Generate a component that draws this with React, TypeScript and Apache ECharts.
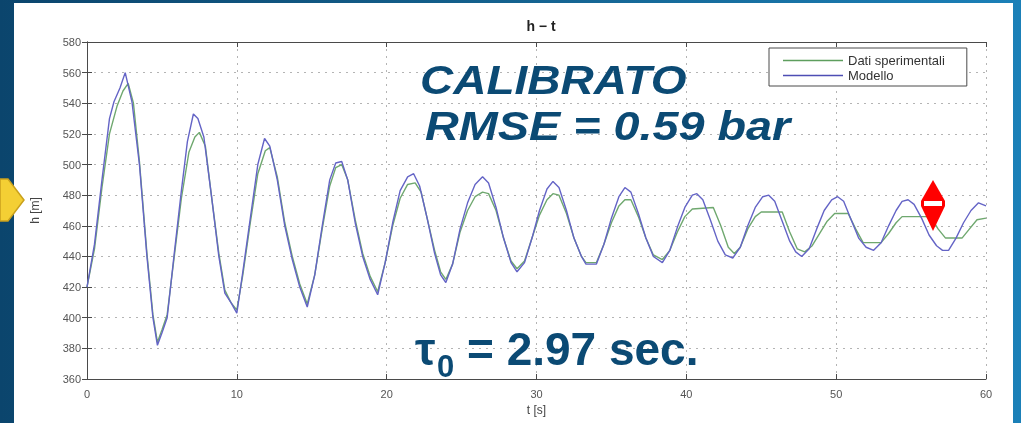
import React, { useEffect, useRef } from "react";
import * as echarts from "echarts";

// Labels
const TITLE = "h \u2212 t";
const X_NAME = "t [s]";
const Y_NAME = "h [m]";
const SERIES_NAMES = ["Dati sperimentali", "Modello"];

// Axis ranges: [min, max, interval]
const X_RANGE = [0, 60, 10];
const Y_RANGE = [360, 580, 20];

// Measured head h [m] against time t [s]
const datiSperimentali: [number, number][] = [
  [0, 420], [0.5, 445], [1.0, 485], [1.5, 520], [2.0, 538], [2.4, 548], [2.75, 553],
  [3.1, 540], [3.5, 502], [4.0, 442], [4.4, 402], [4.7, 384], [5.0, 392], [5.35, 402],
  [5.8, 438], [6.3, 478], [6.8, 508], [7.2, 518], [7.5, 521], [7.9, 512], [8.3, 480],
  [8.8, 442], [9.2, 418], [9.6, 410], [10.0, 405], [10.4, 428], [10.9, 462], [11.4, 494],
  [11.9, 509], [12.2, 511], [12.7, 492], [13.2, 462], [13.7, 440], [14.2, 422], [14.7, 409],
  [15.2, 428], [15.7, 458], [16.2, 486], [16.6, 498], [17.0, 500], [17.4, 490], [17.9, 464],
  [18.4, 442], [18.9, 427], [19.4, 417], [19.9, 436], [20.4, 460], [20.9, 478], [21.4, 487],
  [21.9, 488], [22.3, 482], [22.7, 465], [23.2, 444], [23.6, 430], [23.95, 425], [24.4, 435],
  [24.9, 456], [25.4, 470], [25.9, 479], [26.4, 482], [26.8, 481], [27.3, 470], [27.8, 452],
  [28.3, 437], [28.7, 432], [29.2, 437], [29.7, 452], [30.2, 467], [30.7, 477], [31.1, 481],
  [31.5, 480], [32.0, 468], [32.5, 452], [33.0, 440], [33.3, 436], [34.0, 436], [34.5, 448],
  [35.0, 462], [35.5, 473], [35.9, 477], [36.3, 477], [36.8, 466], [37.3, 452], [37.8, 441],
  [38.4, 438], [38.9, 444], [39.4, 456], [39.9, 466], [40.4, 471], [41.8, 472], [42.3, 460],
  [42.8, 446], [43.2, 442], [43.6, 446], [44.1, 458], [44.6, 466], [45.0, 469], [46.4, 469],
  [46.9, 456], [47.4, 445], [47.9, 443], [48.4, 447], [48.9, 455], [49.4, 463], [49.9, 468],
  [50.8, 468], [51.3, 458], [51.8, 449], [53.0, 449], [53.5, 455], [54.0, 462], [54.4, 466],
  [56.3, 466], [56.8, 458], [57.3, 452], [58.4, 452], [58.9, 458], [59.4, 464], [60.0, 465],
];

// Simulated head h [m] against time t [s]
const modello: [number, number][] = [
  [0, 420], [0.5, 448], [1.0, 490], [1.5, 530], [1.8, 541], [2.2, 550], [2.55, 560],
  [3.0, 541], [3.5, 500], [4.0, 440], [4.4, 400], [4.7, 382], [5.0, 390], [5.35, 400],
  [5.8, 440], [6.3, 483], [6.7, 515], [7.1, 533], [7.4, 530], [7.8, 518], [8.3, 480],
  [8.8, 440], [9.2, 416], [9.6, 410], [10.0, 403], [10.4, 430], [10.9, 465], [11.4, 500],
  [11.85, 517], [12.2, 512], [12.7, 490], [13.2, 460], [13.7, 438], [14.2, 420], [14.7, 407],
  [15.2, 428], [15.7, 460], [16.2, 490], [16.6, 501], [17.0, 502], [17.4, 490], [17.9, 462],
  [18.4, 440], [18.9, 425], [19.4, 415], [19.9, 436], [20.4, 462], [20.9, 483], [21.4, 492],
  [21.8, 494], [22.2, 486], [22.7, 465], [23.2, 442], [23.6, 428], [23.95, 423], [24.4, 435],
  [24.9, 458], [25.4, 475], [25.9, 487], [26.4, 492], [26.8, 488], [27.3, 472], [27.8, 452],
  [28.3, 436], [28.7, 430], [29.2, 436], [29.7, 452], [30.2, 470], [30.7, 484], [31.1, 489],
  [31.5, 485], [32.0, 470], [32.5, 452], [33.0, 440], [33.3, 435], [34.0, 435], [34.5, 448],
  [35.0, 465], [35.5, 479], [35.9, 485], [36.3, 482], [36.8, 468], [37.3, 452], [37.8, 440],
  [38.4, 436], [38.9, 444], [39.4, 459], [39.9, 472], [40.4, 480], [40.7, 481], [41.1, 477],
  [41.6, 464], [42.1, 450], [42.6, 441], [43.1, 439], [43.6, 446], [44.1, 460], [44.6, 472],
  [45.1, 479], [45.5, 480], [45.9, 476], [46.4, 463], [46.9, 450], [47.3, 443], [47.7, 440],
  [48.2, 445], [48.7, 458], [49.2, 470], [49.7, 477], [50.1, 479], [50.5, 476], [51.0, 464],
  [51.5, 452], [52.0, 446], [52.5, 444], [53.0, 449], [53.5, 460], [54.0, 470], [54.4, 476],
  [54.8, 477], [55.2, 474], [55.7, 465], [56.2, 454], [56.7, 447], [57.1, 444], [57.5, 444],
  [58.0, 452], [58.5, 462], [59.0, 470], [59.5, 475], [60.0, 473],
];

// Overlay annotations
const NOTE_LINE_1 = "CALIBRATO";
const NOTE_LINE_2 = "RMSE = 0.59 bar";
const TAU = "\u03c4";
const TAU_SUB = "0";
const TAU_VALUE = "= 2.97 sec.";

const W = 1021;
const H = 423;
const FONT = "'Liberation Sans', Arial, Helvetica, sans-serif";
const NAVY = "#0b4a74";

export default function App() {
  const ref = useRef<HTMLDivElement>(null);

  useEffect(() => {
    if (!ref.current) return;
    const chart = echarts.init(ref.current, undefined, { renderer: "svg" });

    const axisLine = { show: true, lineStyle: { color: "#4a4a4a", width: 1 } };
    const axisTick = { show: true, inside: true, length: 5, lineStyle: { color: "#4a4a4a" } };
    const grid = { show: true, lineStyle: { color: "#b4b4b4", type: [2, 5], width: 1 } };
    const tickLabel = { color: "#555", fontSize: 11, fontFamily: FONT };

    // Overlay note text; scaleX widens the glyphs around the left anchor
    const noteText = (text: string, x: number, y: number, font: string, scaleX = 1) => ({
      type: "text",
      z: 100,
      silent: true,
      x,
      y,
      scaleX,
      style: {
        text,
        font,
        fill: NAVY,
        align: "left",
        verticalAlign: "middle",
      },
    });

    const option: echarts.EChartsOption = {
      animation: false,
      title: {
        text: TITLE,
        left: 536,
        top: 14,
        textAlign: "center",
        textStyle: { fontSize: 14, fontWeight: "bold", color: "#222", fontFamily: FONT },
      },
      grid: { left: 87, top: 42, right: 35, bottom: 44, containLabel: false },
      legend: {
        data: SERIES_NAMES,
        orient: "vertical",
        left: 769,
        top: 48,
        icon: "rect",
        itemWidth: 60,
        itemHeight: 1.5,
        itemGap: 0,
        padding: [5, 22, 3, 14],
        backgroundColor: "#ffffff",
        borderColor: "#4a4a4a",
        borderWidth: 1,
        borderRadius: 0,
        textStyle: { fontSize: 13, color: "#333", fontFamily: FONT, lineHeight: 15 },
      },
      xAxis: [
        {
          type: "value",
          min: X_RANGE[0],
          max: X_RANGE[1],
          interval: X_RANGE[2],
          name: X_NAME,
          nameLocation: "middle",
          nameGap: 24,
          nameTextStyle: { color: "#444", fontSize: 12, fontFamily: FONT },
          axisLine,
          axisTick,
          axisLabel: { ...tickLabel, margin: 9 },
          splitLine: grid,
        },
        {
          type: "value",
          position: "top",
          min: X_RANGE[0],
          max: X_RANGE[1],
          interval: X_RANGE[2],
          axisLine,
          axisTick,
          axisLabel: { show: false },
          splitLine: { show: false },
        },
      ],
      yAxis: [
        {
          type: "value",
          min: Y_RANGE[0],
          max: Y_RANGE[1],
          interval: Y_RANGE[2],
          name: Y_NAME,
          nameLocation: "middle",
          nameRotate: 90,
          nameGap: 46,
          nameTextStyle: { color: "#444", fontSize: 12, fontFamily: FONT },
          axisLine,
          axisTick,
          axisLabel: { ...tickLabel, margin: 6 },
          splitLine: grid,
        },
        {
          type: "value",
          position: "right",
          min: Y_RANGE[0],
          max: Y_RANGE[1],
          interval: Y_RANGE[2],
          axisLine,
          axisTick,
          axisLabel: { show: false },
          splitLine: { show: false },
        },
      ],
      series: [
        {
          name: SERIES_NAMES[0],
          type: "line",
          data: datiSperimentali,
          showSymbol: false,
          lineStyle: { color: "#6fa86f", width: 1.4 },
          itemStyle: { color: "#5e9e5e" },
          z: 2,
        },
        {
          name: SERIES_NAMES[1],
          type: "line",
          data: modello,
          showSymbol: false,
          lineStyle: { color: "#6464c6", width: 1.4 },
          itemStyle: { color: "#4e4eb4" },
          z: 3,
        },
      ],
      graphic: [
        {
          type: "rect",
          z: -20,
          silent: true,
          shape: { x: 0, y: 0, width: W, height: H },
          style: {
            fill: new echarts.graphic.LinearGradient(0, 0, 1, 0, [
              { offset: 0, color: "#0b456d" },
              { offset: 0.5, color: "#14628f" },
              { offset: 1, color: "#1b80b8" },
            ]),
          },
        },
        {
          type: "rect",
          z: -19,
          silent: true,
          shape: { x: 14, y: 3, width: 999, height: H },
          style: { fill: "#ffffff" },
        },
        // yellow chevron at the left edge of the slide
        {
          type: "polygon",
          z: 50,
          silent: true,
          shape: { points: [[0, 179], [8, 179], [24, 200], [8, 221], [0, 221]] },
          style: { fill: "#f4cf34", stroke: "#c9a01c", lineWidth: 1.5 },
        },
        // red double arrow marking the amplitude gap
        {
          type: "polygon",
          z: 50,
          silent: true,
          shape: { points: [[933, 180], [945, 201], [921, 201]] },
          style: { fill: "#ff0000" },
        },
        {
          type: "polygon",
          z: 50,
          silent: true,
          shape: { points: [[921, 206], [945, 206], [933, 231]] },
          style: { fill: "#ff0000" },
        },
        {
          type: "rect",
          z: 50,
          silent: true,
          shape: { x: 921, y: 201, width: 3, height: 5 },
          style: { fill: "#ff0000" },
        },
        {
          type: "rect",
          z: 50,
          silent: true,
          shape: { x: 942, y: 201, width: 3, height: 5 },
          style: { fill: "#ff0000" },
        },
        noteText(NOTE_LINE_1, 420, 80, `italic bold 40px ${FONT}`, 1.15),
        noteText(NOTE_LINE_2, 425, 126, `italic bold 40px ${FONT}`, 1.17),
        noteText(TAU, 415, 349, `bold 46px ${FONT}`),
        noteText(TAU_SUB, 437, 366, `bold 31px ${FONT}`),
        noteText(TAU_VALUE, 467, 349, `bold 46px ${FONT}`),
      ] as any,
    };

    chart.setOption(option);
    return () => chart.dispose();
  }, []);

  return (
    <div style={{ position: "fixed", left: 0, top: 0, width: W, height: H }}>
      <div ref={ref} style={{ width: W, height: H }} />
    </div>
  );
}
